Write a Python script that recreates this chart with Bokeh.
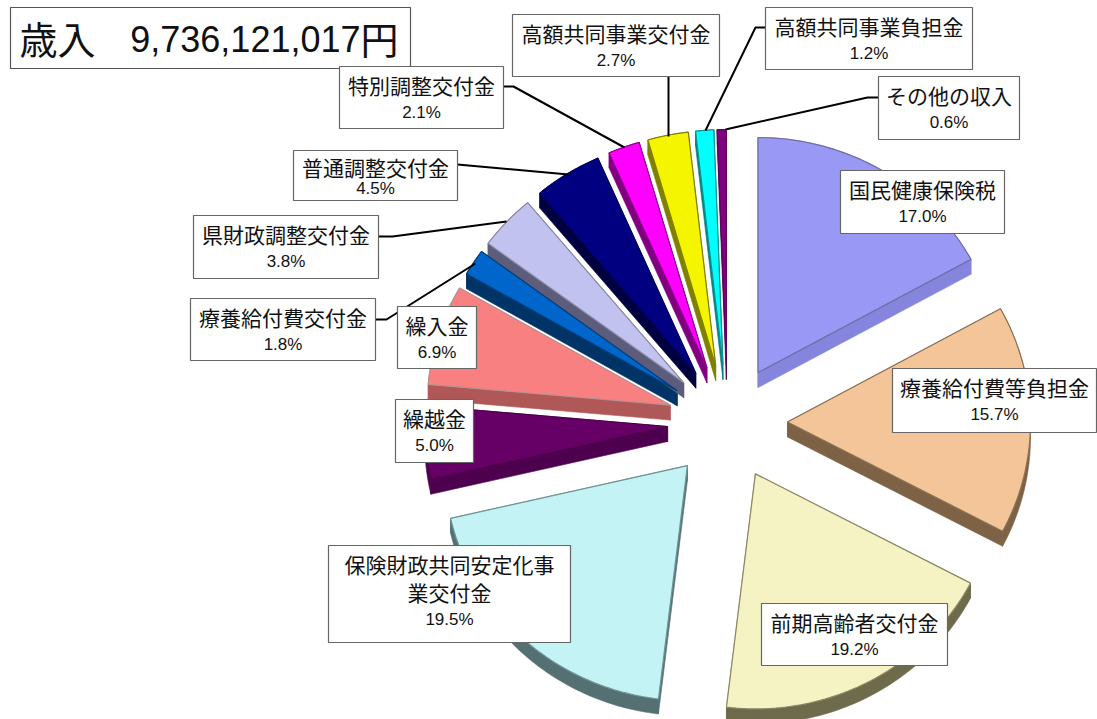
import numpy as np
from bokeh.plotting import figure
from bokeh.models import Range1d
from bokeh.core.properties import value
from bokeh.embed import file_html
from bokeh.resources import INLINE

categories = ["国民健康保険税", "療養給付費等負担金", "前期高齢者交付金", "保険財政共同安定化事業交付金",
              "繰越金", "繰入金", "療養給付費交付金", "県財政調整交付金", "普通調整交付金",
              "特別調整交付金", "高額共同事業交付金", "高額共同事業負担金", "その他の収入"]
shares = [17.0, 15.7, 19.2, 19.5, 5.0, 6.9, 1.8, 3.8, 4.5, 2.1, 2.7, 1.2, 0.6]
pct_labels = ["17.0%", "15.7%", "19.2%", "19.5%", "5.0%", "6.9%", "1.8%", "3.8%", "4.5%", "2.1%", "2.7%", "1.2%", "0.6%"]
title_left = "歳入"
title_number = "9,736,121,017"
title_right = "円"

top_colors = ["#9999F5", "#F4C599", "#F5F3C4", "#C4F3F5", "#660066", "#F88080", "#0066CC",
              "#C2C2F0", "#000080", "#FF00FF", "#F5F500", "#00FFFF", "#800080"]
side_colors = ["#8585DE", "#7D6245", "#6E6B4C", "#557072", "#4D004D", "#B05858", "#003366",
               "#5C5C7C", "#000040", "#800080", "#808000", "#008080", "#400040"]
edge_colors = ["#6E6EA8", "#8A7155", "#8C8A66", "#6F9496", "#4D004D", "#B89090", "#003E7A",
               "#8A8AA0", "#000060", "#900090", "#808000", "#109090", "#600060"]

# layout (pixels of the picture)
CX, CY, RX, RY, EX, EY, DEPTH = 727.0, 422.0, 243.0, 235.0, 60.0, 58.0, 15.0
boxes = [(840, 170, 1004, 233), (892, 368, 1096, 432), (761, 603, 947, 665), (328, 545, 570, 642),
         (395, 399, 473, 462), (397, 306, 476, 368), (190, 298, 375, 360), (193, 215, 378, 278),
         (293, 150, 457, 200), (339, 66, 503, 128), (512, 14, 719, 76), (765, 7, 972, 69), (878, 76, 1019, 139)]
name_lines = [["国民健康保険税"], ["療養給付費等負担金"], ["前期高齢者交付金"], ["保険財政共同安定化事", "業交付金"],
              ["繰越金"], ["繰入金"], ["療養給付費交付金"], ["県財政調整交付金"], ["普通調整交付金"],
              ["特別調整交付金"], ["高額共同事業交付金"], ["高額共同事業負担金"], ["その他の収入"]]
leaders = [([668, 668], [76, 136]),
           ([765, 755, 705], [27, 27, 130]),
           ([878, 867, 725], [97, 97, 129]),
           ([503, 513, 624], [86, 86, 147]),
           ([457, 568], [164, 174]),
           ([378, 392, 506], [236, 236, 221]),
           ([375, 386, 475], [319, 319, 263])]

p = figure(width=1097, height=719, x_range=Range1d(0, 1097), y_range=Range1d(719, 0),
           output_backend="svg", toolbar_location=None, min_border=0)
p.axis.visible = False
p.grid.visible = False
p.outline_line_color = None
p.background_fill_color = "white"
p.border_fill_color = "white"

fr = np.cumsum([0.0] + shares) / sum(shares) * 2 * np.pi
top_x, top_y, side_x, side_y, side_c = [], [], [], [], []
for i in range(len(shares)):
    a, b = fr[i], fr[i + 1]
    mid = (a + b) / 2
    ax = CX + EX * np.sin(mid)
    ay = CY - EY * np.cos(mid)
    t = np.linspace(a, b, 60)
    ox = ax + RX * np.sin(t)
    oy = ay - RY * np.cos(t)
    top_x.append(np.concatenate([[ax], ox]))
    top_y.append(np.concatenate([[ay], oy]))
    # outer rim as one band, the two cut faces as one quad each
    side_x.append(np.concatenate([ox, ox[::-1]]))
    side_y.append(np.concatenate([oy, oy[::-1] + DEPTH]))
    side_c.append(side_colors[i])
    for ex, ey in ((ox[0], oy[0]), (ox[-1], oy[-1])):
        side_x.append(np.array([ax, ex, ex, ax]))
        side_y.append(np.array([ay, ey, ey + DEPTH, ay + DEPTH]))
        side_c.append(side_colors[i])

p.patches(side_x, side_y, fill_color=side_c, line_color=side_c, line_width=0.6)
p.patches(top_x, top_y, fill_color=top_colors, line_color=edge_colors, line_width=1.2)

for lx, ly in leaders:
    p.line(lx, ly, line_color="black", line_width=2)

# title box
p.quad(left=[10], right=[410], top=[7], bottom=[68], fill_color="white", line_color="#555555", line_width=1.2)
p.text([19], [37], text=[title_left], text_font=value("Noto Sans CJK JP"), text_font_size="38px",
       text_align="left", text_baseline="middle", text_color="#111111")
p.text([360], [38], text=[title_number], text_font=value("Liberation Sans"), text_font_size="36px",
       text_align="right", text_baseline="middle", text_color="#111111")
p.text([360], [37], text=[title_right], text_font=value("Noto Sans CJK JP"), text_font_size="38px",
       text_align="left", text_baseline="middle", text_color="#111111")

p.quad(left=[b[0] for b in boxes], right=[b[2] for b in boxes], top=[b[1] for b in boxes],
       bottom=[b[3] for b in boxes], fill_color="white", line_color="#666666", line_width=1.2)

nx, ny, nt, px, py, pt = [], [], [], [], [], []
for i, b in enumerate(boxes):
    c = (b[0] + b[2]) / 2
    lines = name_lines[i]
    tight = b[3] - b[1] < 55
    top = b[1] + (16 if tight else 18)
    gap = 22 if tight else 28
    for j, s in enumerate(lines):
        nx.append(c); ny.append(top + j * 28); nt.append(s)
    px.append(c); py.append(top + (len(lines) - 1) * 28 + gap); pt.append(pct_labels[i])
p.text(nx, ny, text=nt, text_font=value("Noto Sans CJK JP"), text_font_size="21px",
       text_align="center", text_baseline="middle", text_color="#111111")
p.text(px, py, text=pt, text_font=value("Liberation Sans"), text_font_size="17px",
       text_align="center", text_baseline="middle", text_color="#111111")

open("out.html", "w").write(file_html(p, INLINE))
